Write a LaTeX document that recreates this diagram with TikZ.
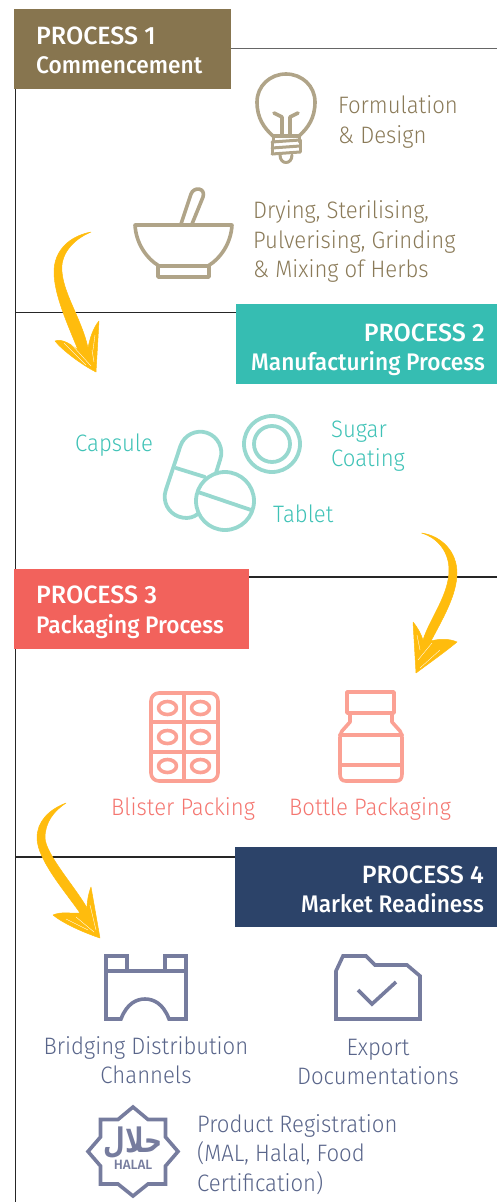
\documentclass[tikz,border=0pt]{standalone}
\usepackage{fontspec}
\setmainfont{Fira Sans Light}[FakeStretch=0.93]
\newfontfamily\headf{Fira Sans Medium}
\newfontfamily\headn{Fira Sans Medium}[FakeStretch=0.945]
\newfontfamily\arabicfont[Script=Arabic]{DejaVu Sans Bold}
\TeXXeTstate=1
\definecolor{tanbox}{HTML}{87754F}
\definecolor{tealbox}{HTML}{36BDB2}
\definecolor{redbox}{HTML}{F2625C}
\definecolor{navybox}{HTML}{2C4369}
\definecolor{tantext}{HTML}{8A7A58}
\definecolor{tanicon}{HTML}{B0A488}
\definecolor{tealtext}{HTML}{3FC2B6}
\definecolor{tealicon}{HTML}{97D8CF}
\definecolor{redtext}{HTML}{F47670}
\definecolor{redicon}{HTML}{FBA194}
\definecolor{navytext}{HTML}{59658A}
\definecolor{navyicon}{HTML}{767C9E}
\definecolor{arrowy}{HTML}{FFBC0D}
\tikzset{
  rule/.style={draw=black!85,line width=1.2pt},
  headtxt/.style={inner sep=0pt,text=white,font=\headf\fontsize{25}{25}\selectfont},
  headlow/.style={inner sep=0pt,text=white,font=\headn\fontsize{24}{24}\selectfont},
  bodytxt/.style={inner sep=0pt,font=\fontsize{23.8}{23.8}\selectfont},
  icon/.style={line width=3.6pt,line join=round,line cap=round},
  bigarrow/.style={fill=arrowy,draw=arrowy,line width=.5pt,line join=round},
  scribble/.style={draw=white,line width=.35pt},
}
\begin{document}
\begin{tikzpicture}[x=1pt,y=-1pt]
\useasboundingbox (0,0) rectangle (497,1202);
% rules
\coordinate (vtop) at (15.5,89);
\coordinate (vbot) at (15.5,1202);
\coordinate (r1a) at (231,48.5); \coordinate (r1b) at (497,48.5);
\coordinate (r2a) at (15.5,312.5); \coordinate (r2b) at (236,312.5);
\coordinate (r3a) at (249,577); \coordinate (r3b) at (497,577);
\coordinate (r4a) at (15.5,857); \coordinate (r4b) at (235,857);
\draw[rule] (vtop) -- (vbot);
\draw[rule,draw=black!60] (r1a) -- (r1b);
\draw[rule,line width=1.7pt] (r2a) -- (r2b);
\draw[rule,line width=1.7pt] (r3a) -- (r3b);
\draw[rule] (r4a) -- (r4b);
% header boxes
\fill[tanbox] (14,9) rectangle (231,89);
\fill[tealbox] (236,304) rectangle (497,384);
\fill[redbox] (14,569) rectangle (249,649);
\fill[navybox] (235,847) rectangle (497,927);
\node[headtxt,anchor=base west] (p1a) at (36,44) {PROCESS 1};
\node[headlow,anchor=base west] (p1b) at (36,73) {Commencement};
\node[headtxt,anchor=base east] (p2a) at (485,341) {PROCESS 2};
\node[headlow,anchor=base east] (p2b) at (485,370) {Manufacturing Process};
\node[headtxt,anchor=base west] (p3a) at (36,603) {PROCESS 3};
\node[headlow,anchor=base west] (p3b) at (36,633) {Packaging Process};
\node[headtxt,anchor=base east] (p4a) at (484,883) {PROCESS 4};
\node[headlow,anchor=base east] (p4b) at (484,912) {Market Readiness};
% body text
\begin{scope}[every node/.style={bodytxt,text=tantext,anchor=base west}]
\node (t1) at (338,113) {Formulation};
\node (t2) at (338,143) {\& Design};
\node (t3) at (253,218) {Drying, Sterilising,};
\node (t4) at (253,248) {Pulverising, Grinding};
\node (t5) at (253,277) {\& Mixing of Herbs};
\end{scope}
\begin{scope}[every node/.style={bodytxt,text=tealtext,anchor=base west}]
\node (t6) at (75,451) {Capsule};
\node (t7) at (331,437) {Sugar};
\node (t8) at (331,466) {Coating};
\node (t9) at (273,522) {Tablet};
\end{scope}
\begin{scope}[every node/.style={bodytxt,text=redtext,anchor=base west}]
\node (t10) at (111,815) {Blister Packing};
\node (t11) at (289,815) {Bottle Packaging};
\end{scope}
\begin{scope}[every node/.style={bodytxt,text=navytext}]
\node[anchor=base] (t12) at (146,1054) {Bridging Distribution};
\node[anchor=base] (t13) at (146,1083) {Channels};
\node[anchor=base] (t14) at (378,1055) {Export};
\node[anchor=base] (t15) at (378,1084) {Documentations};
\node[anchor=base west] (t16) at (197,1132) {Product Registration};
\node[anchor=base west] (t17) at (197,1161) {(MAL, Halal, Food};
\node[anchor=base west] (t18) at (197,1191) {Certification)};
\end{scope}
% bulb
\begin{scope}[icon,draw=tanicon]
\draw (273,136) .. controls (264,128) and (257,118) .. (257,102) .. controls (257,86) and (270,74) .. (286,74) .. controls (302,74) and (315,86) .. (315,102) .. controls (315,118) and (308,128) .. (299,136) -- cycle;
\draw (274,113) -- (282,117) -- (282,136);
\draw (298,113) -- (290,117) -- (290,136);
\draw[line width=3pt] (273,137) -- (273,142);
\draw[line width=3pt] (299,137) -- (299,142);
\draw[line width=3pt] (272,142) -- (300,140);
\draw[line width=3pt] (272,148) -- (300,146);
\draw[line width=3pt] (272,154) -- (300,152);
\draw[line width=3pt] (272,142) -- (272,154) (300,140) -- (300,152);
\draw[line width=3pt] (280,155) .. controls (280,165) and (292,165) .. (292,155);
\end{scope}
% mortar
\begin{scope}[icon,draw=tanicon]
\draw (135,225) -- (232,225) .. controls (231,243) and (221,258) .. (208,266) -- (159,266) .. controls (146,258) and (136,243) .. (135,225) -- cycle;
\draw (158,266) -- (158,277) -- (209,277) -- (209,266);
\draw (181,224) -- (191,194) .. controls (194,186) and (206,188) .. (203,197) -- (192,224);
\end{scope}
% pills
\begin{scope}[icon,draw=tealicon,line width=3.8pt]
\draw (215,476) -- (220.2,459.4) .. controls (223.9,448.4) and (218,436.5) .. (207,432.8) .. controls (196,429.1) and (184.1,435) .. (180.4,446) -- (165.8,490.1) .. controls (162.1,501.1) and (168,513) .. (179,516.7) .. controls (190,520.4) and (200,516) .. (205.6,503.5);
\draw (176,468) -- (205,477);
\draw[fill=white] (225,501) circle[radius=29];
\draw (198,492) -- (251,510);
\draw (272,444) circle[radius=28];
\draw (272,444) circle[radius=18];
\end{scope}
% blister
\begin{scope}[icon,draw=redicon]
\draw[rounded corners=8pt] (151,693) rectangle (218,781);
\draw (184,693) -- (184,781);
\draw (151,722) -- (218,722) (151,752) -- (218,752);
\foreach \ex in {167.5,200.5} \foreach \ey in {708,737,766}
  \draw (\ex,\ey) ellipse[x radius=9,y radius=6.5];
\end{scope}
% bottle
\begin{scope}[icon,draw=redicon]
\draw (347,692) rectangle (394,713);
\draw (350,713) -- (350,722) -- (342,731) .. controls (340,734) and (340,736) .. (340,740) -- (340,774) .. controls (340,779) and (342,781) .. (346,781) -- (396,781) .. controls (400,781) and (402,779) .. (402,774) -- (402,740) .. controls (402,736) and (402,734) .. (400,731) -- (392,722) -- (392,713);
\draw (340,735) -- (402,735) (340,765) -- (402,765);
\end{scope}
% bridge
\begin{scope}[icon,draw=navyicon,line cap=butt,line join=miter]
\draw (106,1019) -- (121,1019) .. controls (127,1003) and (137,999) .. (145,999) .. controls (153,999) and (163,1003) .. (169,1019) -- (186,1019) -- (186,971) -- (106,971) -- cycle;
\draw (106,971) -- (106,956) -- (127,956) -- (127,971);
\draw (165,971) -- (165,956) -- (186,956) -- (186,971);
\end{scope}
% folder
\begin{scope}[icon,draw=navyicon,line cap=butt,line join=miter]
\draw (336,1019) -- (336,971) -- (343,956) -- (366,956) -- (375,965) -- (407,965) -- (420,976) -- (420,1019) -- cycle;
\draw (358,990) -- (372,1004) -- (396,982);
\end{scope}
% halal star
\draw[icon,draw=navyicon,line cap=butt,line join=miter] (133,1107) -- (148,1119.5) -- (165.5,1119.5) -- (165.5,1137) -- (178,1151.5) -- (165.5,1166) -- (165.5,1184) -- (148,1184) -- (133,1196) -- (118,1184) -- (100.5,1184) -- (100.5,1166) -- (88,1151.5) -- (100.5,1137) -- (100.5,1119.5) -- (118,1119.5) -- cycle;
\node[inner sep=0pt,text=navyicon,font=\arabicfont\fontsize{25}{25}\selectfont] (ar) at (133,1143) {\scalebox{1}[1.35]{\beginR حلال\endR}};
\node[inner sep=0pt,text=navyicon,font=\headf\fontsize{13.5}{13.5}\selectfont] (hl) at (133,1165) {HALAL};
% arrow 1
\fill[bigarrow] (91,232) .. controls (70,236) and (54,250) .. (54,272) .. controls (54,295) and (68,325) .. (78,350) .. controls (72,345) and (62,338) .. (55,341) .. controls (62,350) and (82,365) .. (96,372) -- (99,321) .. controls (93,328) and (90,338) .. (88,348) .. controls (82,320) and (64,295) .. (62,272) .. controls (60,255) and (72,240) .. (91,232) -- cycle;
\draw[scribble] (64,343) -- (86,365) (72,345) -- (91,366) (92,350) -- (94,362) (95,335) -- (93,350);
% arrow 2
\fill[bigarrow] (421.5,533) .. controls (442,536) and (457,552) .. (457,573) .. controls (457,595) and (442,620) .. (431,641) .. controls (438,639) and (448,638) .. (457,642) .. controls (445,652) and (428,664) .. (416,673) -- (413,622) .. controls (418,628) and (421,634) .. (423,640) .. controls (430,618) and (449,595) .. (449,570) .. controls (449,552) and (438,538) .. (421.5,533) -- cycle;
\draw[scribble] (417,635) -- (420,650) (418,660) -- (432,643) (420,668) -- (440,650);
% arrow 3
\fill[bigarrow] (66,803) .. controls (48,810) and (37,822) .. (37,838) .. controls (37,860) and (68,895) .. (80,913) .. controls (72,914) and (62,911) .. (53,915) .. controls (64,924) and (85,933) .. (100,938) -- (91,887) .. controls (88,895) and (87,903) .. (87,908) .. controls (76,888) and (46,855) .. (45,838) .. controls (45,822) and (54,811) .. (66,803) -- cycle;
\draw[scribble] (66,919) -- (88,930) (76,917) -- (94,932) (90,905) -- (96,930);
\end{tikzpicture}
\end{document}
